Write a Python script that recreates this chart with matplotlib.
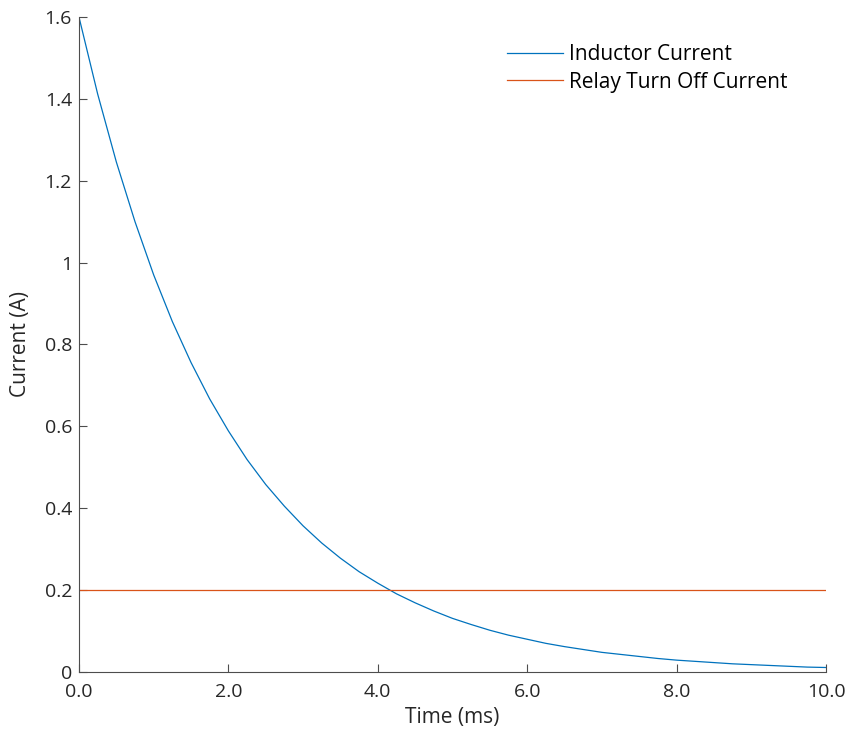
import matplotlib
matplotlib.use("Agg")
import matplotlib.pyplot as plt
import numpy as np

# inductor discharge, sampled every 0.25 ms
time_ms = [0.0, 0.25, 0.5, 0.75, 1.0, 1.25, 1.5, 1.75, 2.0, 2.25,
           2.5, 2.75, 3.0, 3.25, 3.5, 3.75, 4.0, 4.25, 4.5, 4.75,
           5.0, 5.25, 5.5, 5.75, 6.0, 6.25, 6.5, 6.75, 7.0, 7.25,
           7.5, 7.75, 8.0, 8.25, 8.5, 8.75, 9.0, 9.25, 9.5, 9.75, 10.0]
inductor_current = [1.600, 1.412, 1.246, 1.100, 0.970, 0.856, 0.756, 0.667, 0.589, 0.519,
                    0.458, 0.405, 0.357, 0.315, 0.278, 0.245, 0.217, 0.191, 0.169, 0.149,
                    0.131, 0.116, 0.102, 0.090, 0.080, 0.070, 0.062, 0.055, 0.048, 0.043,
                    0.038, 0.033, 0.029, 0.026, 0.023, 0.020, 0.018, 0.016, 0.014, 0.012, 0.011]
relay_time = [0.0, 10.0]
relay_current = [0.2, 0.2]

x_ticks = [0, 2, 4, 6, 8, 10]
x_labels = ["0.0", "2.0", "4.0", "6.0", "8.0", "10.0"]
y_ticks = [0, 0.2, 0.4, 0.6, 0.8, 1.0, 1.2, 1.4, 1.6]
y_labels = ["0", "0.2", "0.4", "0.6", "0.8", "1", "1.2", "1.4", "1.6"]

plt.rcParams['font.family'] = ['Open Sans', 'DejaVu Sans']
txt = '#262626'

fig = plt.figure(figsize=(8.5, 7.35), dpi=100)
ax = fig.add_axes([0.0929, 0.0857, 0.8789, 0.8912])

ax.plot(time_ms, inductor_current, color='#0072BD', lw=0.9, label='Inductor Current')
ax.plot(relay_time, relay_current, color='#D95319', lw=0.9, label='Relay Turn Off Current')

ax.set_xlim(0, 10)
ax.set_ylim(0, 1.6)
ax.set_xticks(x_ticks)
ax.set_xticklabels(x_labels)
ax.set_yticks(y_ticks)
ax.set_yticklabels(y_labels)

for s in ['top', 'right']:
    ax.spines[s].set_visible(False)
for s in ['left', 'bottom']:
    ax.spines[s].set_color('#4d4d4d')
    ax.spines[s].set_linewidth(0.8)

ax.tick_params(direction='in', length=6, width=0.8, color='#4d4d4d',
               labelsize=14, labelcolor=txt)
ax.tick_params(axis='x', pad=8)
ax.tick_params(axis='y', pad=5)
ax.set_xlabel('Time (ms)', fontsize=15, color=txt, labelpad=4)
ax.set_ylabel('Current (A)', fontsize=15, color=txt, labelpad=10)

ax.legend(loc='upper left', frameon=False, fontsize=15, handlelength=2.7,
          handletextpad=0.25, labelspacing=0.3, borderaxespad=0,
          bbox_to_anchor=(0.562, 0.971))

fig.savefig('out.png', dpi=100)
